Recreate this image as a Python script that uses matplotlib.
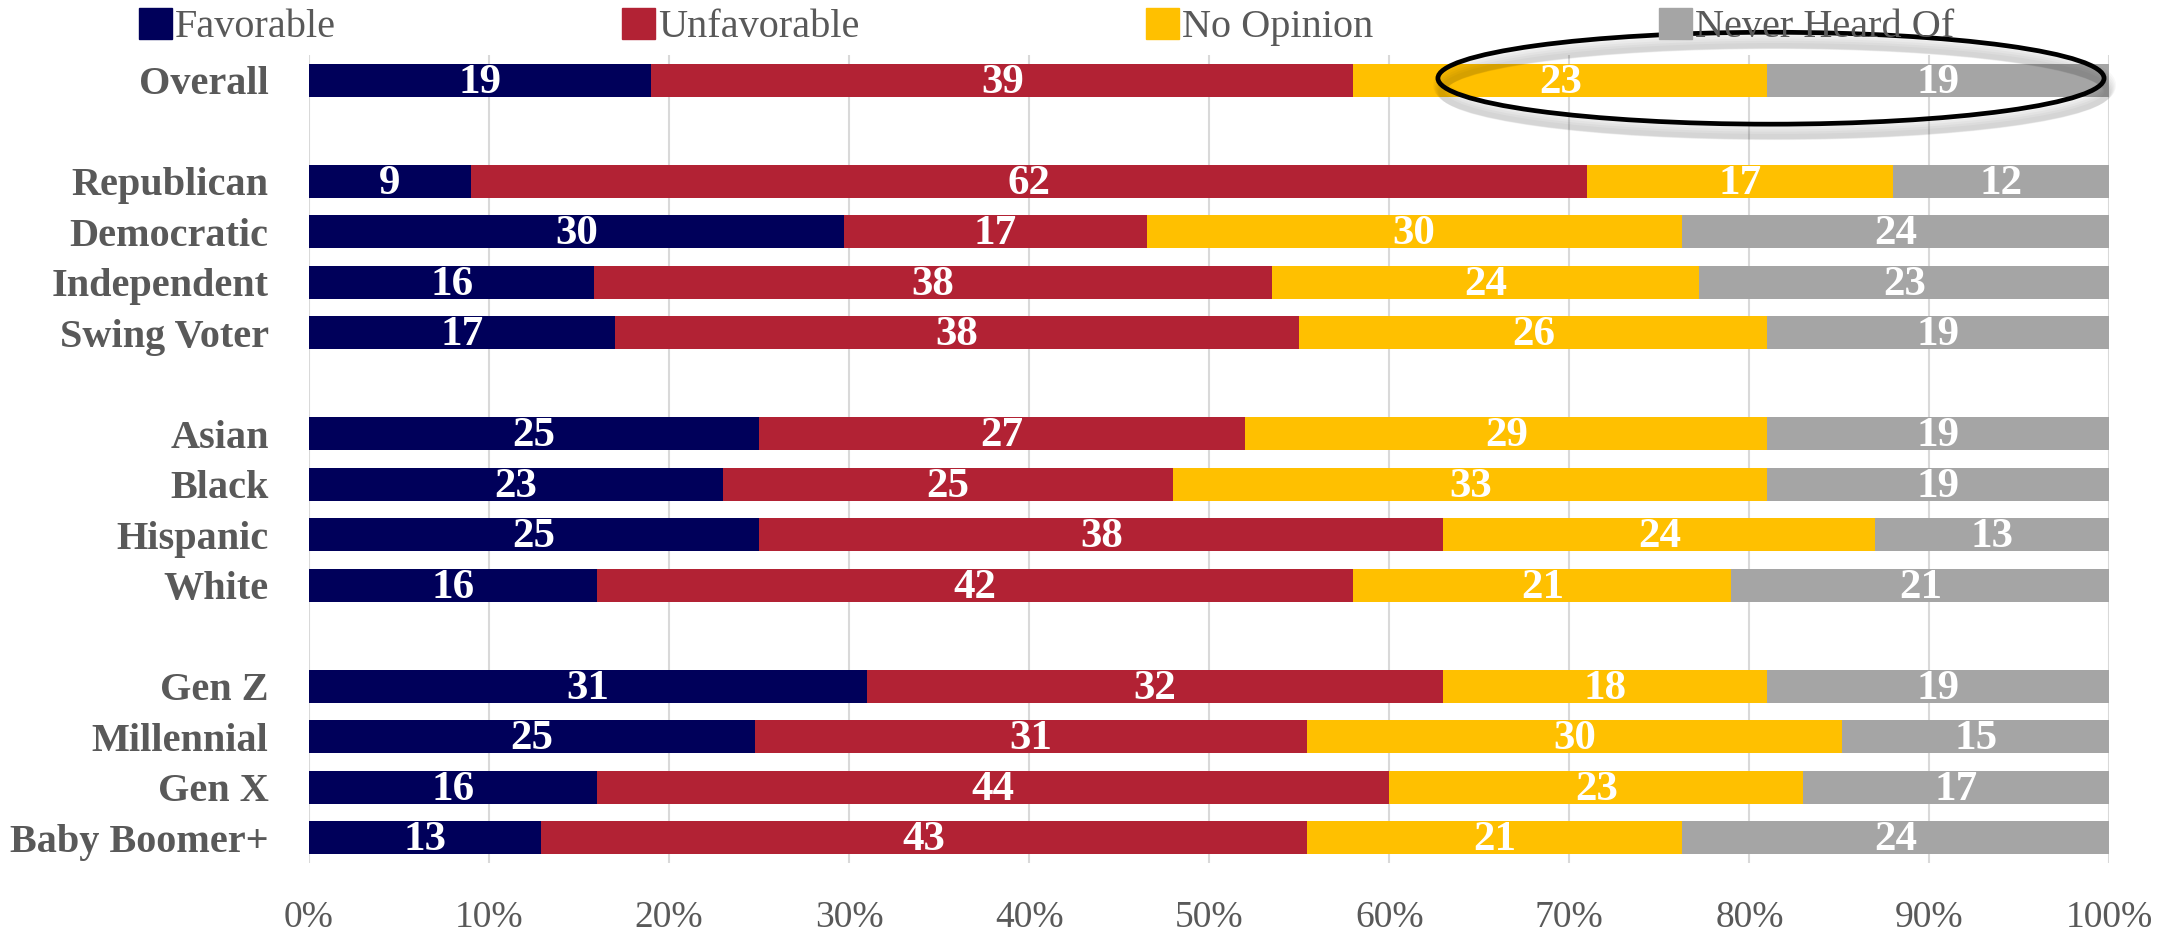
import numpy as np
import matplotlib
matplotlib.use("Agg")
from matplotlib import pyplot as plt
from matplotlib.patches import Patch, Ellipse

plt.rcParams['font.family'] = ['Liberation Serif', 'DejaVu Serif']

# survey groups, each group separated by an empty row
groups = [
    ["Overall"],
    ["Republican", "Democratic", "Independent", "Swing Voter"],
    ["Asian", "Black", "Hispanic", "White"],
    ["Gen Z", "Millennial", "Gen X", "Baby Boomer+"],
]

series = ["Favorable", "Unfavorable", "No Opinion", "Never Heard Of"]
colors = ["#00005A", "#B22234", "#FFC000", "#A5A5A5"]

favorable = [19, 9, 30, 16, 17, 25, 23, 25, 16, 31, 25, 16, 13]
unfavorable = [39, 62, 17, 38, 38, 27, 25, 38, 42, 32, 31, 44, 43]
no_opinion = [23, 17, 30, 24, 26, 29, 33, 24, 21, 18, 30, 23, 21]
never_heard = [19, 12, 24, 23, 19, 19, 19, 13, 21, 19, 15, 17, 24]

labels = []
ypos = []
row = 0
for g in groups:
    for name in g:
        labels.append(name)
        ypos.append(row)
        row += 1
    row += 1
ypos = np.array(ypos)

vals = np.array([favorable, unfavorable, no_opinion, never_heard], dtype=float)
shares = vals / vals.sum(axis=0) * 100

fig = plt.figure(figsize=(21.64, 9.32), dpi=100)
ax = fig.add_axes([0.1428, 0.074, 0.832, 0.867])

left = np.zeros(len(labels))
for i in range(4):
    ax.barh(ypos, shares[i], left=left, height=0.66, color=colors[i], zorder=3)
    for y, l, w, v in zip(ypos, left, shares[i], vals[i]):
        ax.text(l + w / 2, y + 0.05, f"{v:.0f}", ha="center", va="center",
                color="white", fontsize=31, fontweight="bold", zorder=4)
    left += shares[i]

ax.set_xlim(0, 100)
ax.set_ylim(row - 1.5, -0.5)
ax.set_xticks(np.arange(0, 101, 10))
ax.set_xticklabels([f"{t}%" for t in range(0, 101, 10)])
ax.set_yticks(ypos)
ax.set_yticklabels(labels, fontweight="bold")
ax.tick_params(axis="x", length=0, pad=27, labelsize=27, labelcolor="#595959")
ax.tick_params(axis="y", length=0, pad=29, labelsize=29, labelcolor="#595959")
ax.grid(axis="x", color="#D9D9D9", linewidth=1.5, zorder=0)
for s in ax.spines.values():
    s.set_visible(False)

# callout ring around the Overall row's right side, with a soft shadow
for k in range(6):
    ax.add_patch(Ellipse((81.4, 0.1 + 0.025 * k), 37, 1.8, fill=False,
                         edgecolor="black", alpha=0.028, linewidth=12 - 1.5 * k,
                         clip_on=False, zorder=5))
ax.add_patch(Ellipse((81.2, -0.04), 37, 1.82, fill=False, edgecolor="black",
                     linewidth=3.4, clip_on=False, zorder=6))

handles = [Patch(facecolor=c, edgecolor=c) for c in colors]
fig.legend(handles, series, loc="center left", bbox_to_anchor=(0.0642, 0.971),
           ncol=4, frameon=False, fontsize=29, labelcolor="#595959",
           borderpad=0, borderaxespad=0, handlelength=0.82, handleheight=0.82,
           handletextpad=0.08, columnspacing=7.1)

fig.savefig("out.png", dpi=100)
